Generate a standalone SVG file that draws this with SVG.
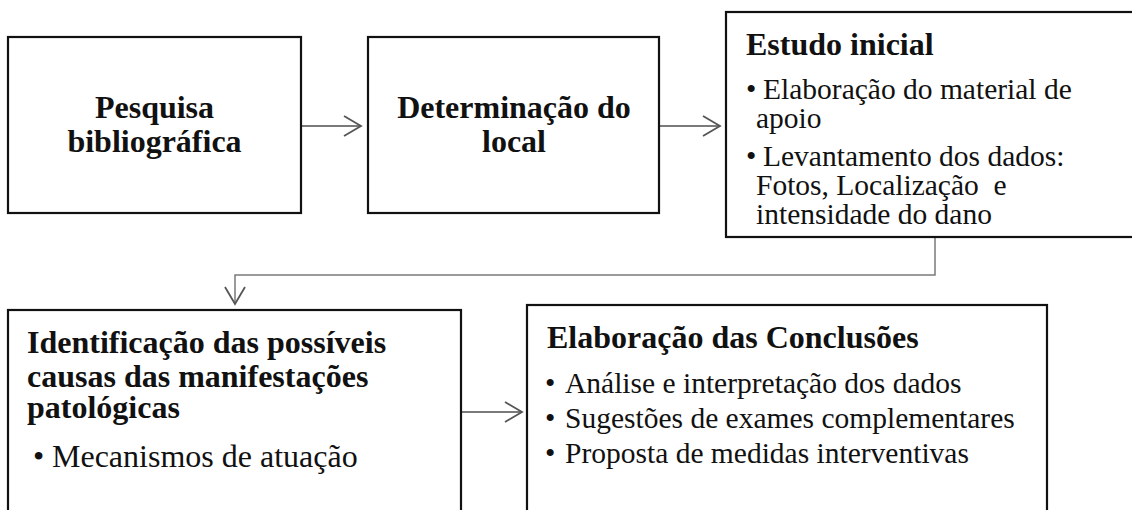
<svg xmlns="http://www.w3.org/2000/svg" width="1132" height="510" viewBox="0 0 1132 510">
<style>
.box{fill:#fff;stroke:#111;stroke-width:2.2}
.t{font-family:"Liberation Serif","Times New Roman",serif;fill:#111}
.b{font-weight:bold;font-size:32px}
.r{font-size:29.5px}
.r32{font-size:32px}
.c{text-anchor:middle}
.conn{fill:none;stroke:#7a7a7a;stroke-width:2}
</style>
<defs>
<marker id="arr" viewBox="-20 -12 22 24" refX="0" refY="0" markerWidth="22" markerHeight="24" markerUnits="userSpaceOnUse" orient="auto">
<path d="M-17,-10 L0,0 L-17,10" fill="none" stroke="#555" stroke-width="1.8"/>
</marker>
</defs>
<rect width="1132" height="510" fill="#fff"/>
<g id="connectors">
<line class="conn" x1="301" y1="126" x2="361" y2="126" marker-end="url(#arr)"/>
<line class="conn" x1="659" y1="126" x2="720" y2="126" marker-end="url(#arr)"/>
<polyline class="conn" points="935,237 935,275 235,275 235,304" marker-end="url(#arr)" style="stroke-width:1.5"/>
<line class="conn" x1="461" y1="412" x2="522" y2="412" marker-end="url(#arr)"/>
</g>
<g id="node-pesquisa">
<rect class="box" x="8" y="37" width="293" height="176"/>
<text class="t b c" x="154.5" y="118">Pesquisa</text>
<text class="t b c" x="154.5" y="152">bibliográfica</text>
</g>
<g id="node-determinacao">
<rect class="box" x="368" y="37" width="291" height="176"/>
<text class="t b c" x="514" y="118">Determinação do</text>
<text class="t b c" x="514" y="152">local</text>
</g>
<g id="node-estudo">
<rect class="box" x="726" y="12" width="420" height="225"/>
<text class="t b" x="746" y="55">Estudo inicial</text>
<text class="t r" x="746" y="99">•</text>
<text class="t r" x="763" y="99">Elaboração do material de</text>
<text class="t r" x="756" y="128">apoio</text>
<text class="t r" x="746" y="166">•</text>
<text class="t r" x="763" y="166">Levantamento dos dados:</text>
<text class="t r" x="756" y="195" xml:space="preserve">Fotos, Localização  e</text>
<text class="t r" x="756" y="224">intensidade do dano</text>
</g>
<g id="node-identificacao">
<rect class="box" x="8" y="310" width="453" height="215"/>
<text class="t b" x="27" y="353">Identificação das possíveis</text>
<text class="t b" x="27" y="387">causas das manifestações</text>
<text class="t b" x="27" y="418">patológicas</text>
<text class="t r32" x="33" y="467">•</text>
<text class="t r32" x="52" y="467">Mecanismos de atuação</text>
</g>
<g id="node-conclusoes">
<rect class="box" x="527" y="305" width="520" height="220"/>
<text class="t b" x="547" y="348">Elaboração das Conclusões</text>
<text class="t r" x="545" y="393">•</text>
<text class="t r" x="565" y="393">Análise e interpretação dos dados</text>
<text class="t r" x="545" y="428">•</text>
<text class="t r" x="565" y="428">Sugestões de exames complementares</text>
<text class="t r" x="545" y="463">•</text>
<text class="t r" x="565" y="463">Proposta de medidas interventivas</text>
</g>
</svg>
